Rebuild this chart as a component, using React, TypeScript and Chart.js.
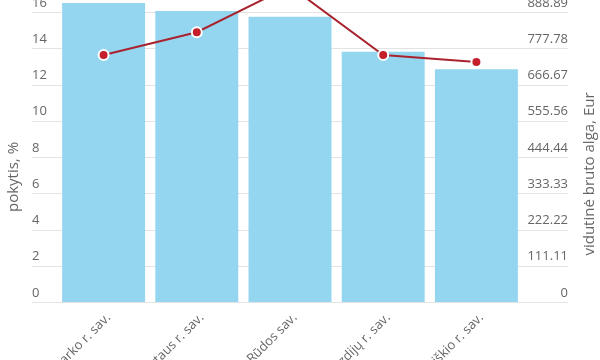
import React, { useEffect, useRef } from "react";
import { Chart, registerables } from "chart.js";

Chart.register(...registerables);

const categories = [
  "Jurbarko r. sav.",
  "Alytaus r. sav.",
  "Kazlų Rūdos sav.",
  "Lazdijų r. sav.",
  "Rokiškio r. sav.",
];
const changePct = [16.5, 16.06, 15.74, 13.81, 12.84];
const avgSalary = [757, 827, 968, 757, 736];

const leftMax = 16;
const leftStep = 2;
const rightMax = 8000 / 9;
const rightStep = 1000 / 9;

const leftTitle = "pokytis, %";
const rightTitle = "vidutinė bruto alga, Eur";

const FONT = "'Open Sans', sans-serif";
const TEXT = "#666666";
const GRID = "#e3e3e3";

const gridAndTitles = {
  id: "gridAndTitles",
  beforeDatasetsDraw(chart: any) {
    const { ctx } = chart;
    const y = chart.scales.y;
    const y1 = chart.scales.y1;
    ctx.save();
    ctx.strokeStyle = GRID;
    ctx.lineWidth = 1;
    y.ticks.forEach((t: any) => {
      const py = Math.round(y.getPixelForValue(t.value)) + 0.5;
      ctx.beginPath();
      ctx.moveTo(y.left, py);
      ctx.lineTo(y1.right, py);
      ctx.stroke();
    });
    ctx.restore();
  },
  afterDraw(chart: any) {
    const { ctx, chartArea } = chart;
    const y = chart.scales.y;
    const y1 = chart.scales.y1;
    const cy = (chartArea.top + chartArea.bottom) / 2 + 17;
    ctx.save();
    ctx.fillStyle = TEXT;
    ctx.font = `15px ${FONT}`;
    ctx.textAlign = "center";
    ctx.textBaseline = "middle";
    ctx.translate(y.left - 18.5, cy + 3);
    ctx.rotate(-Math.PI / 2);
    ctx.fillText(leftTitle, 0, 0);
    ctx.restore();
    ctx.save();
    ctx.fillStyle = TEXT;
    ctx.font = `15px ${FONT}`;
    ctx.textAlign = "center";
    ctx.textBaseline = "middle";
    ctx.translate(y1.right + 22, cy);
    ctx.rotate(-Math.PI / 2);
    ctx.fillText(rightTitle, 0, 0);
    ctx.restore();
  },
};

export default function App() {
  const ref = useRef<HTMLCanvasElement | null>(null);

  useEffect(() => {
    document.body.style.margin = "0";
    if (!ref.current) return;
    const chart = new Chart(ref.current, {
      type: "bar",
      data: {
        labels: categories,
        datasets: [
          {
            type: "line",
            label: rightTitle,
            data: avgSalary,
            yAxisID: "y1",
            borderColor: "#a8232e",
            borderWidth: 2,
            pointBackgroundColor: "#c41f2b",
            pointBorderColor: "#ffffff",
            pointBorderWidth: 2,
            pointRadius: 5,
            tension: 0,
            clip: false as any,
            order: 0,
          } as any,
          {
            type: "bar",
            label: leftTitle,
            data: changePct,
            yAxisID: "y",
            backgroundColor: "#94d5f0",
            borderWidth: 0,
            barPercentage: 0.89,
            categoryPercentage: 1,
            clip: false as any,
            order: 1,
          } as any,
        ],
      },
      options: {
        animation: false,
        responsive: true,
        maintainAspectRatio: false,
        layout: { padding: { top: 12, left: 32, right: 32, bottom: 0 } },
        plugins: {
          legend: { display: false },
          tooltip: { enabled: false },
        },
        scales: {
          x: {
            grid: { display: false },
            border: { display: false },
            ticks: {
              color: TEXT,
              font: { family: FONT, size: 13 },
              minRotation: 45,
              maxRotation: 45,
              autoSkip: false,
              labelOffset: 5,
              padding: 0,
            },
            afterFit(scale: any) {
              scale.height = 138;
            },
          },
          y: {
            position: "left",
            min: 0,
            max: leftMax,
            grid: { display: false },
            border: { display: false },
            ticks: {
              stepSize: leftStep,
              color: TEXT,
              font: { family: FONT, size: 13 },
              crossAlign: "far",
              labelOffset: -9,
            },
            afterFit(scale: any) {
              scale.width = 25;
            },
          },
          y1: {
            position: "right",
            min: 0,
            max: rightMax,
            grid: { display: false },
            border: { display: false },
            ticks: {
              stepSize: rightStep,
              color: TEXT,
              font: { family: FONT, size: 13 },
              crossAlign: "far",
              labelOffset: -9,
              callback: (v: any) => (Number(v) === 0 ? "0" : Number(v).toFixed(2)),
            },
            afterFit(scale: any) {
              scale.width = 45;
            },
          },
        },
      },
      plugins: [gridAndTitles],
    });
    return () => chart.destroy();
  }, []);

  return (
    <div style={{ width: 600, height: 360, overflow: "hidden", position: "relative" }}>
      <div style={{ position: "absolute", left: 0, top: 0, width: 600, height: 440 }}>
        <canvas ref={ref} />
      </div>
    </div>
  );
}
